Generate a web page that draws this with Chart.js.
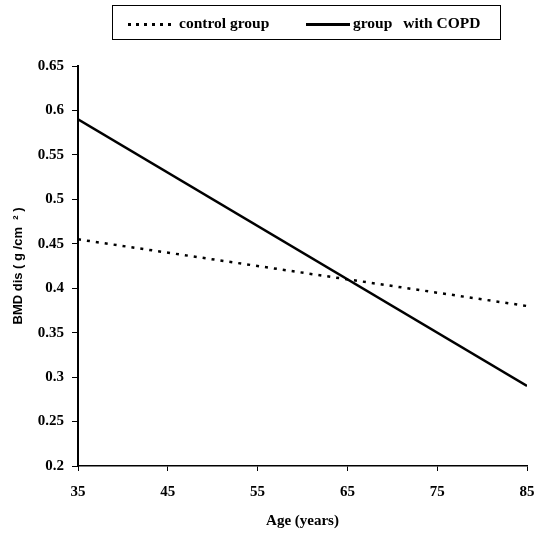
<!DOCTYPE html>
<html>
<head>
<meta charset="utf-8">
<script src="https://cdn.jsdelivr.net/npm/chart.js@4/dist/chart.umd.min.js"></script>
<style>
	html, body { margin: 0; padding: 0; background: #fff; }
	#wrap { position: relative; width: 537px; height: 536px; }
	#legend {
		position: absolute; left: 112px; top: 5px; width: 389px; height: 35px;
		border: 1.5px solid #000; box-sizing: border-box;
		font: bold 15.5px "Liberation Serif", "Times New Roman", serif; color: #000;
	}
	#legend .item { position: absolute; top: 8px; white-space: nowrap; }
	#legend .sample { display: inline-block; vertical-align: middle; height: 2.5px; margin-right: 3px; }
	#legend .dots { background: repeating-linear-gradient(90deg, #000 0 3px, transparent 3px 8px); }
	#legend .solid { background: #000; }
</style>
</head>
<body>
<div id="wrap">
	<canvas id="chart" width="537" height="536"></canvas>
	<div id="legend">
		<span class="item" style="left:15px"><span class="sample dots" style="width:48px"></span>control group</span>
		<span class="item" style="left:193px"><span class="sample solid" style="width:44px"></span>group<span style="margin-left:11px">with COPD</span></span>
	</div>
</div>
<script>
// Age in years (x) and BMD dis in g/cm2 (y)
const ages = [35, 85];
const controlBmd = [0.455, 0.38];
const copdBmd = [0.59, 0.29];
const xTicks = [35, 45, 55, 65, 75, 85];
const yTicks = [0.2, 0.25, 0.3, 0.35, 0.4, 0.45, 0.5, 0.55, 0.6, 0.65];

const toPoints = (ys) => ages.map((x, i) => ({x, y: ys[i]}));
const serifBold = {family: '"Liberation Serif", "Times New Roman", serif', size: 15, weight: 'bold'};

new Chart(document.querySelector('#chart'), {
	type: 'line',
	data: {
		datasets: [
			{
				label: 'control group',
				data: toPoints(controlBmd),
				borderColor: '#000',
				borderWidth: 2.5,
				borderDash: [3, 6],
				pointRadius: 0,
				tension: 0,
			},
			{
				label: 'group  with COPD',
				data: toPoints(copdBmd),
				borderColor: '#000',
				borderWidth: 2.5,
				pointRadius: 0,
				tension: 0,
			},
		],
	},
	options: {
		responsive: false,
		animation: false,
		layout: {padding: {top: 66, right: 10, left: 0, bottom: 4}},
		plugins: {legend: {display: false}, tooltip: {enabled: false}},
		scales: {
			x: {
				type: 'linear',
				min: 35,
				max: 85,
				afterBuildTicks: (scale) => { scale.ticks = xTicks.map((value) => ({value})); },
				afterFit: (scale) => {
					scale.height = 66;
					scale.paddingLeft = 0;
					scale.paddingRight = 0;
				},
				border: {color: '#000', width: 1.5},
				grid: {drawOnChartArea: false, color: '#000', tickLength: 5},
				ticks: {color: '#000', font: serifBold, padding: 12, maxRotation: 0},
				title: {
					display: true,
					text: 'Age (years)',
					color: '#000',
					font: serifBold,
					padding: {top: 4, bottom: 2},
				},
			},
			y: {
				min: 0.2,
				max: 0.65,
				afterBuildTicks: (scale) => { scale.ticks = yTicks.map((value) => ({value})); },
				afterFit: (scale) => {
					scale.width = 78;
					scale.paddingTop = 0;
					scale.paddingBottom = 0;
				},
				border: {color: '#000', width: 2},
				grid: {drawOnChartArea: false, color: '#000', tickLength: 6},
				ticks: {
					color: '#000',
					font: serifBold,
					padding: 8,
					callback: (value) => String(Number(value.toFixed(2))),
				},
				title: {
					display: true,
					text: 'BMD dis ( g /cm  ² )',
					color: '#000',
					font: {family: '"Liberation Sans", Arial, sans-serif', size: 13, weight: 'bold'},
					padding: {top: 11, bottom: 0},
				},
			},
		},
	},
});
</script>
</body>
</html>
